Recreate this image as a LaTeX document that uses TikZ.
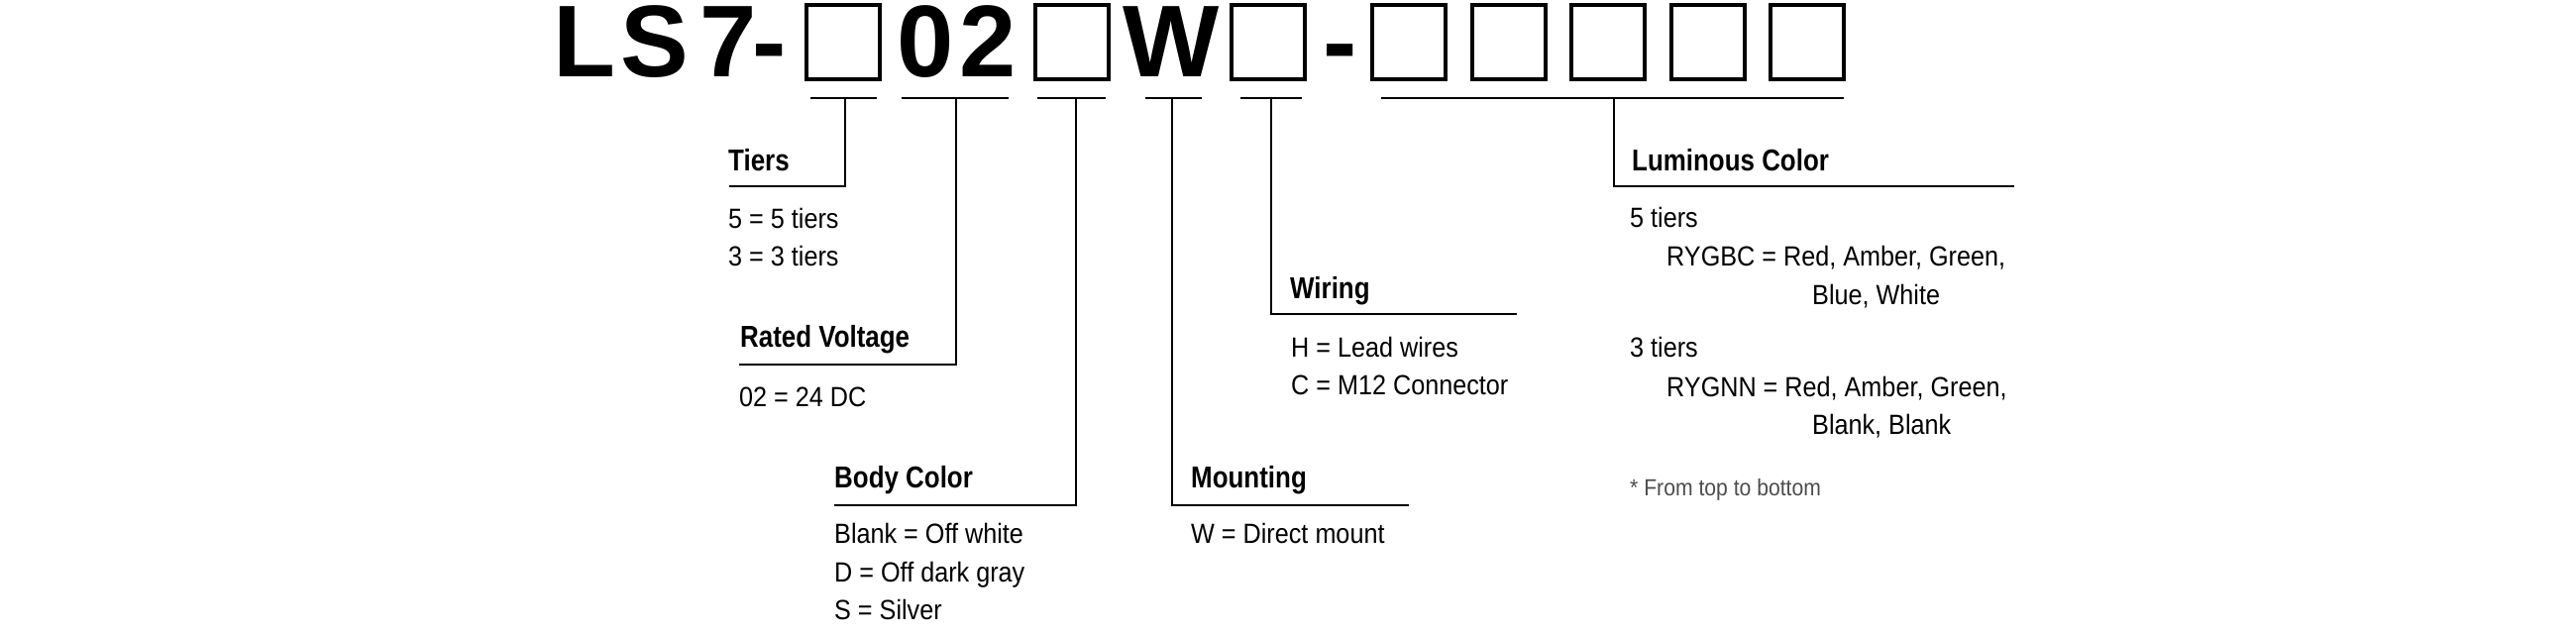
\documentclass[tikz,border=0pt]{standalone}
\usepackage{fontspec}
\newfontfamily\regf{Liberation Sans}[FakeStretch=0.9]
\newfontfamily\boldf{Liberation Sans}[FakeStretch=0.85]
\newfontfamily\titlef{Liberation Sans}
\begin{document}
\begin{tikzpicture}[x=1pt,y=-1pt]
\tikzset{
  lab/.style={anchor=base west, inner sep=0pt, font=\boldf\bfseries\fontsize{30.5}{36}\selectfont},
  txt/.style={anchor=base west, inner sep=0pt, font=\regf\fontsize{28}{34}\selectfont},
  note/.style={anchor=base west, inner sep=0pt, font=\regf\fontsize{23.5}{28}\selectfont, text=black!70},
  ttl/.style={anchor=base, inner sep=0pt, font=\titlef\bfseries\fontsize{103}{110}\selectfont},
  codebox/.style={draw, line width=4.3pt, minimum width=73.7pt, minimum height=74.7pt, inner sep=0pt},
  uline/.style={line width=2.2pt},
  lead/.style={line width=1.7pt},
}
\useasboundingbox (0,0) rectangle (2600,640);
% title glyphs
\node[ttl] (t1) at (590,77) {L};
\node[ttl] (t2) at (661,77) {S};
\node[ttl] (t3) at (735,77) {7};
\node[ttl] (t4) at (776.5,77) {-};
\node[ttl] (t5) at (934,77) {0};
\node[ttl] (t6) at (997.5,77) {2};
\node[ttl] (t7) at (1182,77) {W};
\node[ttl] (t8) at (1352.5,77) {-};
% code boxes
\node[codebox] (b1) at (851,42.5) {};
\node[codebox] (b2) at (1082,42.5) {};
\node[codebox] (b3) at (1280,42.5) {};
\node[codebox] (b4) at (1422,42.5) {};
\node[codebox] (b5) at (1523,42.5) {};
\node[codebox] (b6) at (1623,42.5) {};
\node[codebox] (b7) at (1724,42.5) {};
\node[codebox] (b8) at (1824,42.5) {};
% underlines
\coordinate (u1a) at (818,99.3);  \coordinate (u1b) at (885,99.3);
\coordinate (u2a) at (910,99.3);  \coordinate (u2b) at (1018,99.3);
\coordinate (u3a) at (1047,99.3); \coordinate (u3b) at (1116,99.3);
\coordinate (u4a) at (1156,99.3); \coordinate (u4b) at (1213,99.3);
\coordinate (u5a) at (1252,99.3); \coordinate (u5b) at (1314,99.3);
\coordinate (u6a) at (1394,99.3); \coordinate (u6b) at (1861,99.3);
\foreach \i in {1,...,6} {\draw[uline] (u\i a) -- (u\i b);}
% drop points
\coordinate (d1) at (853,99.3);
\coordinate (d2) at (965,99.3);
\coordinate (d3) at (1086,99.3);
\coordinate (d4) at (1183,99.3);
\coordinate (d5) at (1283,99.3);
\coordinate (d6) at (1629,99.3);
% ends of leader shelves
\coordinate (e1) at (736,188);
\coordinate (e2) at (746,368);
\coordinate (e3) at (842,510);
\coordinate (e4) at (1422,510);
\coordinate (e5) at (1531,317);
\coordinate (e6) at (2033,188);
\draw[lead] (d1) |- (e1);
\draw[lead] (d2) |- (e2);
\draw[lead] (d3) |- (e3);
\draw[lead] (d4) |- (e4);
\draw[lead] (d5) |- (e5);
\draw[lead] (d6) |- (e6);
% Tiers
\node[lab] (tiers) at (735,172) {Tiers};
\node[txt] (tiers1) at (735,230) {5 = 5 tiers};
\node[txt] (tiers2) at (735,268) {3 = 3 tiers};
% Rated voltage
\node[lab] (volt) at (747,350) {Rated Voltage};
\node[txt] (volt1) at (746,410) {02 = 24 DC};
% Body color
\node[lab] (body) at (842,492) {Body Color};
\node[txt] (body1) at (842,548) {Blank = Off white};
\node[txt] (body2) at (842,587) {D = Off dark gray};
\node[txt] (body3) at (842,625) {S = Silver};
% Mounting
\node[lab] (mount) at (1202,492) {Mounting};
\node[txt] (mount1) at (1202,548) {W = Direct mount};
% Wiring
\node[lab] (wire) at (1302,301) {Wiring};
\node[txt] (wire1) at (1303,360) {H = Lead wires};
\node[txt] (wire2) at (1303,398) {C = M12 Connector};
% Luminous color
\node[lab] (lum) at (1647,172) {Luminous Color};
\node[txt] (lum1) at (1645,229) {5 tiers};
\node[txt] (lum2) at (1682,268) {RYGBC = Red, Amber, Green,};
\node[txt] (lum3) at (1829,307) {Blue, White};
\node[txt] (lum4) at (1645,360) {3 tiers};
\node[txt] (lum5) at (1682,400) {RYGNN = Red, Amber, Green,};
\node[txt] (lum6) at (1829,438) {Blank, Blank};
\node[note] (lumnote) at (1645,500) {* From top to bottom};
\end{tikzpicture}
\end{document}
